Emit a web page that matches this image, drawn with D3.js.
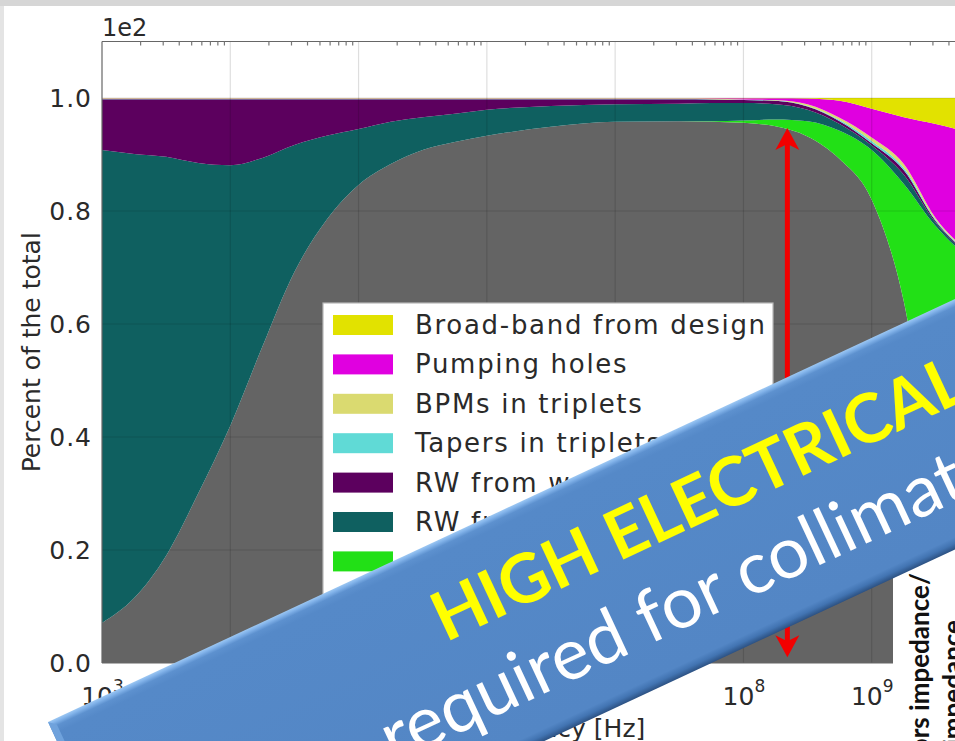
<!DOCTYPE html>
<html>
<head>
<meta charset="utf-8">
<script src="https://cdn.jsdelivr.net/npm/d3@7"></script>
<style>
  html, body { margin: 0; padding: 0; background: #fff; overflow: hidden; }
  svg { display: block; }
</style>
</head>
<body>
<svg id="chart" width="955" height="741"></svg>
<script>
// Frequency samples [Hz]
const freq = [1e3, 1.78e3, 3.16e3, 5.62e3, 1e4, 1.78e4, 3.16e4, 5.62e4, 1e5, 1.78e5,
              3.16e5, 5.62e5, 1e6, 3.16e6, 1e7, 3.16e7, 5.62e7, 1e8, 1.78e8, 3.16e8,
              5.62e8, 1e9, 1.78e9, 3.16e9, 5.62e9, 1e10];

// Share of the total impedance per contribution [%], stacked bottom -> top
const collimatorsRW   = [7.1, 11.5, 19, 30, 42, 56, 69.2, 78.4, 84.6, 88.3, 90.8, 92.2, 93.3, 94.9, 95.8, 95.9, 95.8, 95.6, 95.0, 93.2, 89.2, 82, 64, 30, 12, 4];
const collimatorsGeom = [0, 0, 0, 0, 0, 0, 0, 0, 0, 0, 0, 0, 0, 0, 0, 0, 0.1, 0.4, 1.2, 2.7, 5.0, 8.8, 20.8, 47.3, 60, 66];
const rwCold          = [83.7, 78.6, 70.6, 58.5, 46.1, 33.4, 22.5, 14.9, 9.9, 7.5, 5.8, 5.0, 4.6, 3.7, 3.1, 3.1, 3.2, 3.1, 2.7, 2.0, 1.2, 0.8, 1.6, 0.6, 0.5, 0.4];
const rwWarm          = [9.0, 9.7, 10.2, 11.3, 11.7, 10.4, 8.1, 6.5, 5.3, 4.0, 3.2, 2.6, 1.9, 1.2, 0.9, 0.8, 0.65, 0.55, 0.6, 0.6, 0.5, 0.4, 0.8, 0.3, 0.2, 0.2];
const tapers          = [0.05, 0.05, 0.05, 0.05, 0.05, 0.05, 0.05, 0.05, 0.05, 0.05, 0.05, 0.05, 0.05, 0.05, 0.05, 0.05, 0.05, 0.05, 0.05, 0.1, 0.2, 0.4, 0.4, 0.2, 0.2, 0.2];
const bpms            = [0.05, 0.05, 0.05, 0.05, 0.05, 0.05, 0.05, 0.05, 0.05, 0.05, 0.05, 0.05, 0.05, 0.05, 0.05, 0.05, 0.05, 0.05, 0.1, 0.3, 0.4, 0.6, 0.7, 0.3, 0.2, 0.2];
const pumpingHoles    = [0.05, 0.05, 0.05, 0.05, 0.05, 0.05, 0.05, 0.05, 0.05, 0.05, 0.05, 0.05, 0.05, 0.05, 0.05, 0.05, 0.1, 0.2, 0.3, 1.0, 3.0, 5.1, 8.3, 16.7, 20.9, 22];
const broadBand       = [0.05, 0.05, 0.05, 0.05, 0.05, 0.05, 0.05, 0.05, 0.05, 0.05, 0.05, 0.05, 0.05, 0.05, 0.05, 0.05, 0.05, 0.05, 0.05, 0.1, 0.5, 1.9, 3.4, 4.6, 6, 7];

// Legend labels, listed top -> bottom (reverse stacking order)
const legendLabels = ["Broad-band from design", "Pumping holes", "BPMs in triplets",
                      "Tapers in triplets", "RW from warm elements", "RW from cold elements",
                      "Collimators geometric", "Collimators RW"];

// Axis ticks
const yTicks = [0, 20, 40, 60, 80, 100];
const xTickExp = [3, 4, 5, 6, 7, 8, 9];

// Annotation arrow (frequency, from/to share in %)
const arrowFreq = 2.2e8;
const arrowSpan = [94.7, 1.0];

// ---------------------------------------------------------------------------
(function draw() {
  const series = [
    { key: "collRW",  values: collimatorsRW,   color: "#646464" },
    { key: "collGeo", values: collimatorsGeom, color: "#22e016" },
    { key: "rwCold",  values: rwCold,          color: "#0f6060" },
    { key: "rwWarm",  values: rwWarm,          color: "#5c005e" },
    { key: "tapers",  values: tapers,          color: "#60dad6" },
    { key: "bpms",    values: bpms,            color: "#dada70" },
    { key: "pump",    values: pumpingHoles,    color: "#e000e0" },
    { key: "bb",      values: broadBand,       color: "#e2e200" }
  ];

  const rows = freq.map((f, i) => {
    const r = { f };
    series.forEach(s => r[s.key] = s.values[i]);
    return r;
  });

  const svg = d3.select("#chart");
  const W = 955, H = 741;
  const pL = 102, pT = 41.5, pB = 663, pR = 1000;

  const x = d3.scaleLog().domain([1e3, 1e10]).range([pL, pR]);
  const y = d3.scaleLinear().domain([0, 110]).range([pB, pT]);

  const defs = svg.append("defs");
  defs.append("clipPath").attr("id", "plotClip")
    .append("rect").attr("x", pL).attr("y", pT).attr("width", pR - pL).attr("height", pB - pT);

  // scan-edge strips
  svg.append("rect").attr("x", 0).attr("y", 0).attr("width", W).attr("height", 6).attr("fill", "#d6d6d6");
  svg.append("rect").attr("x", 0).attr("y", 6).attr("width", 4).attr("height", H).attr("fill", "#e4e4e4");

  // stacked areas
  const stack = d3.stack().keys(series.map(s => s.key));
  const layers = stack(rows);
  const area = d3.area()
    .x(d => x(d.data.f))
    .y0(d => y(d[0]))
    .y1(d => y(d[1]))
    .curve(d3.curveMonotoneX);

  const plot = svg.append("g").attr("clip-path", "url(#plotClip)");
  plot.selectAll("path.layer").data(layers).join("path")
    .attr("class", "layer")
    .attr("d", area)
    .attr("fill", (d, i) => series[i].color);

  // grid on top of areas
  const gridX = xTickExp.slice(1).map(e => Math.pow(10, e)).concat([1e10]);
  plot.selectAll("line.gx").data(gridX).join("line")
    .attr("class", "gx")
    .attr("x1", d => x(d)).attr("x2", d => x(d))
    .attr("y1", pT).attr("y2", pB)
    .attr("stroke", "#000").attr("stroke-opacity", 0.13).attr("stroke-width", 1.2);
  plot.selectAll("line.gy").data(yTicks.slice(1)).join("line")
    .attr("class", "gy")
    .attr("x1", pL).attr("x2", pR)
    .attr("y1", d => y(d)).attr("y2", d => y(d))
    .attr("stroke", "#000").attr("stroke-opacity", 0.13).attr("stroke-width", 1.2);

  // spines
  svg.append("line").attr("x1", pL).attr("x2", pR).attr("y1", pT).attr("y2", pT)
    .attr("stroke", "#666").attr("stroke-width", 1.2);
  svg.append("line").attr("x1", pL).attr("x2", pL).attr("y1", pT).attr("y2", pB)
    .attr("stroke", "#666").attr("stroke-width", 1.2);
  svg.append("line").attr("x1", pL).attr("x2", pR).attr("y1", pB).attr("y2", pB)
    .attr("stroke", "#666").attr("stroke-width", 1.2);

  // minor ticks along the top spine
  const minor = [];
  for (let e = 3; e < 10; e++) for (let m = 2; m < 10; m++) minor.push(m * Math.pow(10, e));
  svg.selectAll("line.tmin").data(minor).join("line")
    .attr("class", "tmin")
    .attr("x1", d => x(d)).attr("x2", d => x(d)).attr("y1", pT).attr("y2", pT + 4)
    .attr("stroke", "#777").attr("stroke-width", 1.2);

  // y axis
  const yAxis = d3.axisLeft(y).tickValues(yTicks).tickSize(0).tickPadding(10)
    .tickFormat(d => (d / 100).toFixed(1));
  const gy = svg.append("g").attr("transform", `translate(${pL},0)`).call(yAxis);
  gy.select(".domain").remove();
  gy.selectAll("text").attr("font-family", "DejaVu Sans").attr("font-size", 25)
    .attr("fill", "#2a2a2a").attr("letter-spacing", 1);

  svg.append("text").attr("x", pL).attr("y", 36)
    .attr("font-family", "DejaVu Sans").attr("font-size", 24).attr("fill", "#2a2a2a")
    .text("1e2");

  svg.append("text")
    .attr("transform", `translate(40,${(pT + pB) / 2}) rotate(-90)`)
    .attr("text-anchor", "middle")
    .attr("font-family", "DejaVu Sans").attr("font-size", 25).attr("fill", "#2a2a2a")
    .text("Percent of the total");

  // x axis with power-of-ten labels
  const xAxis = d3.axisBottom(x).tickValues(xTickExp.map(e => Math.pow(10, e))).tickSize(0).tickFormat(() => "");
  const gx = svg.append("g").attr("transform", `translate(0,${pB})`).call(xAxis);
  gx.select(".domain").remove();
  gx.selectAll(".tick").each(function (d) {
    const t = d3.select(this).select("text")
      .attr("y", 42).attr("dy", null)
      .attr("font-family", "DejaVu Sans").attr("font-size", 25).attr("fill", "#2a2a2a")
      .attr("text-anchor", "middle");
    t.append("tspan").text("10");
    t.append("tspan").attr("dy", -13).attr("font-size", 17).text(Math.round(Math.log10(d)));
  });

  svg.append("text")
    .attr("x", (pL + pR) / 2).attr("y", 737)
    .attr("text-anchor", "middle")
    .attr("font-family", "DejaVu Sans").attr("font-size", 25).attr("fill", "#2a2a2a")
    .text("Frequency [Hz]");

  // legend
  const legX = 323, legY = 303, rowH = 39.4;
  const leg = svg.append("g");
  leg.append("rect").attr("x", legX).attr("y", legY).attr("width", 450)
    .attr("height", legendLabels.length * rowH + 12)
    .attr("fill", "#fff").attr("stroke", "#b8b8b8").attr("stroke-width", 1.2);
  const legendColors = series.map(s => s.color).reverse();
  legendLabels.forEach((lab, i) => {
    const cy = legY + 22 + i * rowH;
    leg.append("rect").attr("x", legX + 10).attr("y", cy - 10).attr("width", 60).attr("height", 20)
      .attr("fill", legendColors[i]);
    leg.append("text").attr("x", legX + 92).attr("y", cy + 9)
      .attr("font-family", "DejaVu Sans").attr("font-size", 26).attr("letter-spacing", 1.7)
      .attr("fill", "#2a2a2a").text(lab);
  });

  // red double-headed arrow
  const ax = x(arrowFreq), ayTop = y(arrowSpan[0]), ayBot = y(arrowSpan[1]);
  svg.append("line").attr("x1", ax).attr("x2", ax).attr("y1", ayTop + 14).attr("y2", ayBot - 14)
    .attr("stroke", "#f20000").attr("stroke-width", 5);
  svg.append("path")
    .attr("d", `M${ax},${ayTop} L${ax + 12},${ayTop + 22} L${ax},${ayTop + 16} L${ax - 12},${ayTop + 22} Z`)
    .attr("fill", "#f20000");
  svg.append("path")
    .attr("d", `M${ax},${ayBot} L${ax + 12},${ayBot - 22} L${ax},${ayBot - 16} L${ax - 12},${ayBot - 22} Z`)
    .attr("fill", "#f20000");

  // side caption box (rotated)
  svg.append("rect").attr("x", 893).attr("y", 430).attr("width", 62).attr("height", 311).attr("fill", "#fff");
  const cap = svg.append("g").attr("font-family", "Lato").attr("font-weight", "bold")
    .attr("font-size", 26).attr("fill", "#111");
  cap.append("text").attr("transform", "translate(929,573) rotate(-90)").attr("text-anchor", "end")
    .text("Ratio of collimators impedance/");
  cap.append("text").attr("transform", "translate(962,620) rotate(-90)").attr("text-anchor", "end")
    .text("total impedance");

  // banner
  const grad = defs.append("linearGradient").attr("id", "bannerGrad")
    .attr("x1", 0).attr("y1", 0).attr("x2", 0).attr("y2", 1);
  [[0, "#9cc7f2"], [0.012, "#82b3ea"], [0.03, "#5d91cf"], [0.06, "#5589c8"],
   [0.95, "#5386c5"], [0.975, "#4274b2"], [1, "#2c5182"]]
    .forEach(([o, c]) => grad.append("stop").attr("offset", o).attr("stop-color", c));

  const banner = svg.append("g").attr("transform", "translate(48,722) rotate(-25)");
  banner.append("rect").attr("x", 0).attr("y", 0).attr("width", 1300).attr("height", 227)
    .attr("fill", "url(#bannerGrad)");
  banner.append("path").attr("d", "M0,0 L7,6 L7,227 L0,227 Z").attr("fill", "#6fa2dc");
  banner.append("text").attr("x", 394).attr("y", 96)
    .attr("font-family", "Lato").attr("font-weight", "bold").attr("font-size", 68)
    .attr("fill", "#ffff00").text("HIGH ELECTRICAL CONDUCTIVITY");
  banner.append("text").attr("x", 296).attr("y", 184)
    .attr("font-family", "Lato").attr("font-size", 72)
    .attr("fill", "#ffffff").text("required for collimators");
})();
</script>
</body>
</html>
